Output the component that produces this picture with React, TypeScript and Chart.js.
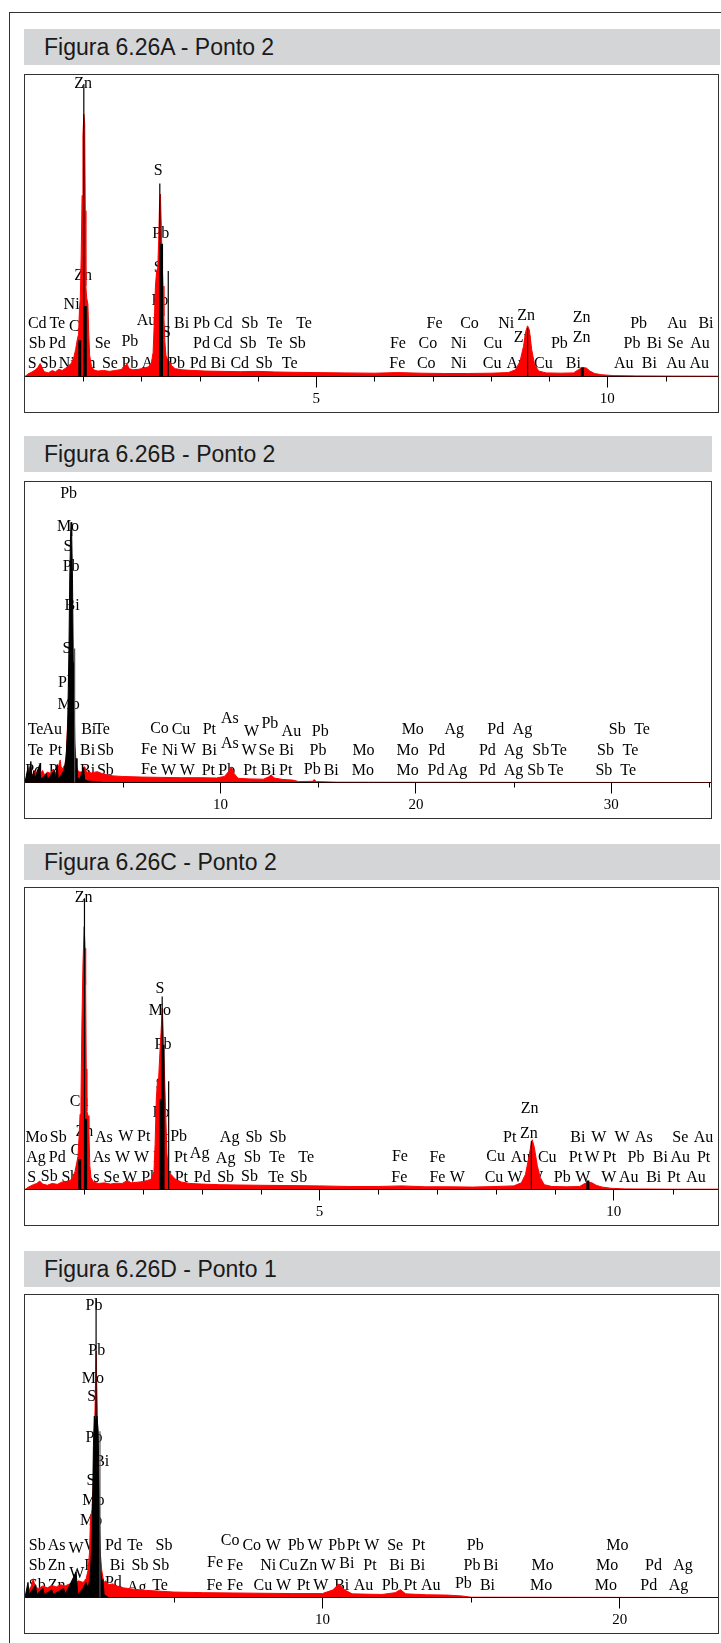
import React, { useEffect, useRef } from "react";
import { Chart, registerables } from "chart.js";

Chart.register(...registerables);

type Pt = [number, number];
type Lab = [string, number, number];

// ---------------- Panel A (Figura 6.26A - Ponto 2) ----------------
const titleA = "Figura 6.26A - Ponto 2";
const rangeA = 11.9;
const majorTicksA = [5, 10];
const minorTicksA = [1, 2, 3, 4, 6, 7, 8, 9, 11];
const spectrumA: Pt[] = [
  [0, 0], [0.05, 0.8], [0.12, 1.5], [0.18, 2.2], [0.22, 3.0], [0.26, 4.3], [0.29, 3.0], [0.33, 1.6], [0.4, 1.2],
  [0.47, 2.0], [0.52, 1.5], [0.58, 2.4], [0.64, 2.0], [0.7, 2.8], [0.75, 3.6], [0.8, 4.5], [0.84, 6.5], [0.87, 9],
  [0.9, 12.5], [0.92, 14], [0.935, 22], [0.95, 26], [0.965, 40], [0.98, 60], [0.995, 80], [1.01, 87], [1.025, 84],
  [1.035, 55], [1.045, 30], [1.06, 26], [1.08, 24], [1.095, 14], [1.11, 7], [1.14, 3.5], [1.18, 2.2], [1.25, 1.8],
  [1.35, 2.0], [1.45, 1.7], [1.55, 2.0], [1.65, 2.3], [1.72, 3.5], [1.75, 4.2], [1.79, 2.6], [1.85, 2.2], [1.95, 2.4],
  [2.05, 2.8], [2.12, 3.2], [2.17, 4.5], [2.2, 8], [2.22, 18], [2.24, 30], [2.26, 35], [2.28, 36], [2.295, 45],
  [2.31, 57], [2.325, 60.5], [2.34, 50], [2.355, 38], [2.37, 30], [2.385, 20], [2.4, 12], [2.42, 7], [2.45, 5.5],
  [2.48, 5], [2.52, 3.5], [2.58, 2.6], [2.7, 2.2], [2.9, 2.0], [3.1, 1.8], [3.4, 1.7], [3.7, 1.6], [4.0, 1.7],
  [4.3, 1.5], [4.6, 1.4], [5.0, 1.3], [5.5, 1.2], [6.0, 1.1], [6.4, 1.3], [6.8, 1.1], [7.2, 1.0], [7.6, 1.0],
  [8.0, 1.1], [8.3, 1.3], [8.42, 2.2], [8.5, 5], [8.56, 10], [8.6, 15], [8.63, 16.8], [8.66, 15.5], [8.7, 9],
  [8.75, 4], [8.82, 1.8], [8.95, 1.2], [9.2, 1.1], [9.42, 1.2], [9.5, 2.2], [9.57, 3.0], [9.64, 2.8], [9.7, 1.8],
  [9.78, 1.0], [9.9, 0.6], [10.1, 0.3], [10.5, 0.2], [11.0, 0.15], [11.9, 0.1],
];
const blackA: Pt[] = [];
const markersThinA: Pt[] = [[1.01, 97], [2.315, 64], [2.46, 35], [8.63, 16]];
const markersThickA: Pt[] = [[1.035, 23.4], [0.94, 12], [2.345, 44], [2.33, 22], [9.57, 3]];
const markersGreyA: Pt[] = [];
const labelsA: Lab[] = [
  ["Zn", 1.0, 97.0], ["S", 2.287, 68.2], ["Pb", 2.33, 47.2], ["S", 2.287, 36.1], ["Zn", 1.0, 33.4],
  ["Pb", 2.316, 25.1], ["Ni", 0.8, 23.8], ["Au", 2.087, 18.5], ["S", 2.431, 14.6], ["Cu", 0.914, 16.6],
  ["Zn", 8.605, 20.1], ["Zn", 8.547, 12.9], ["Zn", 9.559, 19.6], ["Zn", 9.559, 12.7],
  ["Cd", 0.21, 17.4], ["Te", 0.554, 17.4], ["Bi", 2.688, 17.4], ["Pb", 3.031, 17.4], ["Cd", 3.401, 17.4],
  ["Sb", 3.859, 17.4], ["Te", 4.288, 17.4], ["Te", 4.791, 17.4], ["Fe", 7.033, 17.4], ["Co", 7.633, 17.4],
  ["Ni", 8.262, 17.4], ["Pb", 10.537, 17.4], ["Au", 11.195, 17.4], ["Bi", 11.693, 17.4],
  ["Sb", 0.21, 10.7], ["Pd", 0.554, 10.7], ["Se", 1.333, 10.7], ["Pb", 1.801, 11.5], ["Pd", 3.031, 10.7],
  ["Cd", 3.391, 10.7], ["Sb", 3.83, 10.7], ["Te", 4.288, 10.7], ["Sb", 4.678, 10.7], ["Fe", 6.403, 10.7],
  ["Co", 6.918, 10.7], ["Ni", 7.449, 10.7], ["Cu", 8.033, 10.7], ["Pb", 9.177, 10.7], ["Pb", 10.424, 10.7],
  ["Bi", 10.806, 10.7], ["Se", 11.166, 10.7], ["Au", 11.59, 10.7],
  ["S", 0.125, 4.1], ["Sb", 0.4, 4.1], ["Ni", 0.715, 4.1], ["Zn", 1.058, 4.1], ["Se", 1.458, 4.1],
  ["Pb", 1.801, 4.1], ["Au", 2.173, 4.1], ["Pb", 2.602, 4.1], ["Pd", 2.973, 4.1], ["Bi", 3.316, 4.1],
  ["Cd", 3.688, 4.1], ["Sb", 4.105, 4.1], ["Te", 4.545, 4.1], ["Fe", 6.393, 4.1], ["Co", 6.89, 4.1],
  ["Ni", 7.449, 4.1], ["Cu", 8.022, 4.1], ["Au", 8.434, 4.1], ["Cu", 8.902, 4.1], ["Bi", 9.417, 4.1],
  ["Au", 10.28, 4.1], ["Bi", 10.72, 4.1], ["Au", 11.178, 4.1], ["Au", 11.578, 4.1],
];

// ---------------- Panel B (Figura 6.26B - Ponto 2) ----------------
const titleB = "Figura 6.26B - Ponto 2";
const rangeB = 35.1;
const majorTicksB = [10, 20, 30];
const minorTicksB = [5, 15, 25, 35];
const spectrumB: Pt[] = [
  [0, 0], [0.1, 2], [0.2, 4], [0.28, 6], [0.33, 3], [0.4, 2.5], [0.5, 4], [0.58, 3], [0.7, 5], [0.8, 3], [0.9, 4],
  [1.0, 2.5], [1.15, 3.5], [1.3, 3], [1.45, 4.5], [1.55, 3], [1.7, 5], [1.8, 7.5], [1.87, 4], [1.95, 5], [2.05, 6],
  [2.12, 10], [2.18, 20], [2.25, 24], [2.32, 27], [2.4, 30], [2.46, 32.4], [2.52, 24], [2.56, 12], [2.62, 6],
  [2.7, 4], [2.8, 3.5], [2.95, 3.5], [3.05, 5.3], [3.15, 3.5], [3.4, 3.2], [3.7, 3.6], [4.0, 2.8], [4.5, 2.2],
  [5, 2.0], [6, 1.8], [7, 1.7], [8, 1.6], [9, 1.6], [9.8, 1.5], [10.2, 2], [10.4, 3.5], [10.55, 5.2], [10.7, 3],
  [10.9, 1.4], [11.5, 1.2], [12.2, 1.1], [12.45, 1.8], [12.6, 2.5], [12.75, 1.5], [13.2, 1.0], [13.7, 0.8],
  [14, 0.3], [14.7, 0.4], [14.8, 1.0], [14.9, 0.3], [16, 0.1], [35.1, 0],
];
const blackB: Pt[] = [
  [0, 0], [0.15, 5], [0.2, 1], [0.3, 7], [0.35, 1], [0.45, 4], [0.5, 1], [0.75, 6], [0.8, 1], [1.1, 3], [1.15, 1],
  [1.5, 4], [1.55, 1], [1.65, 6], [1.7, 1], [1.9, 3], [2.0, 4], [2.1, 8], [2.18, 18], [2.25, 45], [2.29, 68],
  [2.33, 82], [2.36, 86.6], [2.39, 82], [2.43, 68], [2.47, 40], [2.5, 30], [2.53, 14], [2.58, 6], [2.62, 8],
  [2.66, 2], [2.8, 1], [3.0, 5], [3.05, 1], [3.2, 0.5], [4, 0], [35.1, 0],
];
const markersThinB: Pt[] = [];
const markersThickB: Pt[] = [];
const markersGreyB: Pt[] = [[2.54, 44.6]];
const labelsB: Lab[] = [
  ["Pb", 2.23, 96.0], ["Mo", 2.2, 85.0], ["S", 2.2, 78.3], ["Pb", 2.36, 71.9], ["Bi", 2.41, 58.9],
  ["S", 2.15, 44.6], ["Pb", 2.12, 33.2], ["Mo", 2.23, 25.8],
  ["Te", 0.54, 17.4], ["Au", 1.39, 17.4], ["Bi", 3.26, 17.4], ["Te", 3.94, 17.4], ["Co", 6.88, 18.0],
  ["Cu", 7.98, 17.4], ["Pt", 9.43, 17.6], ["As", 10.48, 21.2], ["W", 11.59, 16.8], ["Pb", 12.53, 19.6],
  ["Au", 13.63, 17.0], ["Pb", 15.11, 17.0], ["Mo", 19.84, 17.4], ["Ag", 21.96, 17.4], ["Pd", 24.09, 17.4],
  ["Ag", 25.45, 17.4], ["Sb", 30.3, 17.4], ["Te", 31.57, 17.4],
  ["Te", 0.54, 10.4], ["Pt", 1.56, 10.4], ["Bi", 3.2, 10.4], ["Sb", 4.11, 10.4], ["Fe", 6.35, 11.0],
  ["Ni", 7.42, 10.4], ["W", 8.36, 10.8], ["Bi", 9.43, 10.4], ["As", 10.48, 13.0], ["W", 11.47, 10.6],
  ["Se", 12.36, 10.4], ["Bi", 13.38, 10.4], ["Pb", 14.99, 10.4], ["Mo", 17.32, 10.4], ["Mo", 19.58, 10.4],
  ["Pd", 21.06, 10.4], ["Pd", 23.66, 10.4], ["Ag", 24.99, 10.4], ["Sb", 26.39, 10.4], ["Te", 27.32, 10.4],
  ["Sb", 29.7, 10.4], ["Te", 30.98, 10.4],
  ["Pd", 0.45, 3.8], ["Pt", 1.56, 3.8], ["Bi", 3.2, 3.8], ["Sb", 4.11, 3.8], ["Fe", 6.35, 4.2], ["W", 7.34, 3.8],
  ["W", 8.31, 3.8], ["Pt", 9.38, 3.8], ["Pb", 10.32, 3.8], ["Pt", 11.51, 3.8], ["Bi", 12.44, 3.8],
  ["Pt", 13.34, 3.8], ["Pb", 14.7, 4.2], ["Bi", 15.67, 3.8], ["Mo", 17.29, 3.8], ["Mo", 19.58, 3.8],
  ["Pd", 21.03, 3.8], ["Ag", 22.13, 3.8], ["Pd", 23.66, 3.8], ["Ag", 24.99, 3.8], ["Sb", 26.13, 3.8],
  ["Te", 27.15, 3.8], ["Sb", 29.62, 3.8], ["Te", 30.86, 3.8],
];

// ---------------- Panel C (Figura 6.26C - Ponto 2) ----------------
const titleC = "Figura 6.26C - Ponto 2";
const rangeC = 11.77;
const majorTicksC = [5, 10];
const minorTicksC = [1, 2, 3, 4, 6, 7, 8, 9, 11];
const spectrumC: Pt[] = [
  [0, 0], [0.06, 0.8], [0.14, 1.6], [0.2, 2.0], [0.25, 2.8], [0.3, 1.8], [0.38, 1.4], [0.46, 2.0], [0.55, 1.7],
  [0.62, 2.4], [0.7, 2.6], [0.76, 3.0], [0.8, 3.5], [0.85, 6], [0.88, 9], [0.9, 11], [0.92, 18], [0.935, 25],
  [0.95, 28], [0.966, 54.6], [0.985, 75], [1.005, 87.2], [1.02, 80], [1.03, 67.9], [1.04, 40], [1.05, 26],
  [1.07, 24.5], [1.085, 20], [1.1, 8], [1.12, 4], [1.16, 2.5], [1.25, 2.0], [1.35, 2.2], [1.45, 1.8],
  [1.55, 2.1], [1.65, 2.0], [1.74, 3.0], [1.8, 2.2], [1.9, 2.4], [2.0, 2.6], [2.08, 3.0], [2.15, 3.5],
  [2.19, 6], [2.21, 15], [2.23, 30], [2.25, 36], [2.27, 37], [2.29, 45], [2.31, 52], [2.333, 60.2], [2.35, 50],
  [2.37, 38], [2.39, 25], [2.41, 12], [2.44, 6], [2.48, 5], [2.55, 3.5], [2.65, 2.5], [2.8, 2.0], [3.0, 1.8],
  [3.3, 1.6], [3.6, 1.5], [4.0, 1.4], [4.5, 1.3], [5.0, 1.2], [5.5, 1.0], [6.0, 1.0], [6.4, 1.2], [6.8, 0.9],
  [7.2, 0.9], [7.6, 0.8], [8.0, 1.0], [8.3, 1.2], [8.43, 2.2], [8.5, 5], [8.56, 11], [8.6, 15.5], [8.615, 16.5],
  [8.65, 14], [8.7, 8], [8.75, 4], [8.82, 1.6], [8.95, 1.0], [9.2, 0.9], [9.42, 1.0], [9.49, 1.8], [9.56, 2.4],
  [9.63, 2.2], [9.7, 1.4], [9.8, 0.8], [9.95, 0.4], [10.2, 0.2], [11.0, 0.1], [11.77, 0.1],
];
const blackC: Pt[] = [];
const markersThinC: Pt[] = [[1.01, 96.6], [2.33, 64], [2.44, 35.9], [8.6, 16]];
const markersThickC: Pt[] = [[1.03, 23.5], [0.93, 10], [2.345, 48], [2.31, 30], [9.56, 3]];
const markersGreyC: Pt[] = [];
const labelsC: Lab[] = [
  ["Zn", 0.996, 96.6], ["S", 2.29, 66.6], ["Mo", 2.29, 59.3], ["Pb", 2.345, 48.0], ["S", 2.29, 34.8],
  ["Pb", 2.31, 25.4], ["Cu", 0.92, 29.2], ["Zn", 1.01, 19.3], ["Cu", 0.93, 12.7], ["Zn", 8.571, 26.7],
  ["Zn", 8.559, 18.5], ["Ag", 2.966, 11.8],
  ["Mo", 0.198, 17.3], ["Sb", 0.565, 17.3], ["As", 1.339, 17.0], ["W", 1.712, 17.6], ["Pt", 2.017, 17.6],
  ["Pt", 2.317, 17.3], ["Pb", 2.61, 17.6], ["Ag", 3.475, 17.0], ["Sb", 3.887, 17.0], ["Sb", 4.293, 17.0],
  ["Pt", 8.232, 17.0], ["Bi", 9.39, 17.3], ["W", 9.746, 17.3], ["W", 10.14, 17.3], ["As", 10.51, 17.0],
  ["Se", 11.13, 17.0], ["Au", 11.525, 17.3],
  ["Ag", 0.186, 10.5], ["Pd", 0.548, 10.5], ["As", 1.3, 10.5], ["W", 1.655, 10.5], ["W", 1.978, 10.5],
  ["Pt", 2.288, 10.5], ["Pt", 2.644, 10.5], ["Ag", 3.407, 10.2], ["Sb", 3.86, 10.5], ["Te", 4.283, 10.5],
  ["Te", 4.775, 10.5], ["Fe", 6.367, 11.0], ["Fe", 7.005, 10.5], ["Cu", 7.994, 11.0], ["Au", 8.418, 10.5],
  ["Cu", 8.87, 10.5], ["Pt", 9.35, 10.5], ["W", 9.63, 10.5], ["Pt", 9.927, 10.5], ["Pb", 10.378, 10.5],
  ["Bi", 10.79, 10.5], ["Au", 11.13, 10.5], ["Pt", 11.525, 10.5],
  ["S", 0.113, 3.9], ["Sb", 0.412, 4.1], ["Sb", 0.763, 3.9], ["As", 1.113, 3.9], ["Se", 1.469, 3.9],
  ["W", 1.78, 3.9], ["Pb", 2.119, 3.9], ["S", 2.43, 3.9], ["Pt", 2.655, 3.9], ["Pd", 3.011, 3.9],
  ["Sb", 3.407, 3.9], ["Sb", 3.814, 4.1], ["Te", 4.266, 3.9], ["Sb", 4.65, 3.9], ["Fe", 6.356, 3.9],
  ["Fe", 7.005, 3.9], ["W", 7.344, 3.9], ["Cu", 7.966, 3.9], ["W", 8.322, 3.9], ["W", 8.672, 3.9],
  ["Pb", 9.124, 3.9], ["W", 9.475, 3.9], ["W", 9.915, 3.9], ["Au", 10.254, 3.9], ["Bi", 10.678, 3.9],
  ["Pt", 11.017, 3.9], ["Au", 11.395, 3.9],
];

// ---------------- Panel D (Figura 6.26D - Ponto 1) ----------------
const titleD = "Figura 6.26D - Ponto 1";
const rangeD = 23.3;
const majorTicksD = [10, 20];
const minorTicksD = [5, 15];
const spectrumD: Pt[] = [
  [0, 0], [0.1, 2], [0.2, 3.5], [0.28, 6.2], [0.34, 3.5], [0.45, 3], [0.6, 3.8], [0.75, 3.2], [0.9, 4],
  [1.05, 3.5], [1.2, 4.2], [1.35, 3.8], [1.5, 4.5], [1.65, 4.2], [1.8, 5.5], [1.95, 5], [2.05, 6], [2.12, 9],
  [2.17, 15], [2.2, 26], [2.25, 29], [2.3, 38], [2.35, 60], [2.39, 81.5], [2.43, 62], [2.47, 35], [2.52, 16],
  [2.58, 9], [2.65, 5], [2.72, 5.5], [2.8, 4.2], [2.95, 4.5], [3.1, 3.8], [3.3, 3.2], [3.6, 2.8], [4, 2.4],
  [5, 1.8], [6, 1.6], [7, 1.5], [8, 1.4], [9, 1.3], [10, 1.3], [10.35, 2.5], [10.55, 4.5], [10.75, 2.5],
  [11, 1.2], [12, 1.0], [12.45, 1.6], [12.62, 2.6], [12.8, 1.2], [13.5, 0.9], [14.2, 0.8], [14.7, 0.5],
  [15, 0.1], [23.3, 0],
];
const blackD: Pt[] = [
  [0, 0], [0.1, 5], [0.14, 1], [0.35, 4], [0.4, 1], [0.6, 3], [0.65, 1], [0.9, 2.5], [0.95, 1], [1.3, 3],
  [1.35, 1], [1.72, 8.5], [1.77, 1], [1.95, 3], [2.05, 5], [2.12, 3], [2.18, 6], [2.22, 12], [2.26, 22],
  [2.3, 50], [2.33, 60], [2.37, 58], [2.42, 60], [2.46, 55], [2.5, 30], [2.54, 10], [2.58, 4], [2.62, 6],
  [2.66, 1], [2.8, 0], [23.3, 0],
];
const markersThinD: Pt[] = [[2.39, 98.6]];
const markersThickD: Pt[] = [];
const markersGreyD: Pt[] = [[2.52, 55]];
const labelsD: Lab[] = [
  ["Pb", 2.32, 96.4], ["Pb", 2.41, 81.5], ["Mo", 2.28, 72.2], ["S", 2.24, 66.3], ["Pb", 2.32, 52.9],
  ["Bi", 2.58, 44.7], ["S", 2.22, 38.6], ["Mo", 2.3, 32], ["Mo", 2.22, 25.4],
  ["Sb", 0.414, 17.2], ["As", 1.065, 17.2], ["W", 1.715, 16.2], ["W", 2.25, 17.2], ["Pd", 2.97, 17.2],
  ["Te", 3.7, 17.2], ["Sb", 4.675, 17.2], ["Co", 6.895, 18.8], ["Co", 7.625, 17.2], ["W", 8.35, 17.2],
  ["Pb", 9.115, 17.2], ["W", 9.754, 17.2], ["Pb", 10.484, 17.2], ["Pt", 11.04, 17.2], ["W", 11.66, 17.2],
  ["Se", 12.445, 17.2], ["Pt", 13.23, 17.2], ["Pb", 15.136, 17.2], ["Mo", 19.92, 17.2],
  ["Sb", 0.414, 10.6], ["Zn", 1.065, 10.6], ["W", 1.74, 7.8], ["Pb", 2.28, 10.6], ["Bi", 3.105, 10.6],
  ["Sb", 3.868, 10.6], ["Sb", 4.564, 10.6], ["Fe", 6.39, 11.5], ["Fe", 7.063, 10.6], ["Ni", 8.18, 10.6],
  ["Cu", 8.857, 10.6], ["Zn", 9.53, 10.6], ["W", 10.2, 10.6], ["Bi", 10.82, 11.2], ["Pt", 11.6, 10.6],
  ["Bi", 12.5, 10.6], ["Bi", 13.2, 10.6], ["Pb", 15.03, 10.6], ["Bi", 15.66, 10.6], ["Mo", 17.4, 10.6],
  ["Mo", 19.57, 10.6], ["Pd", 21.13, 10.6], ["Ag", 22.12, 10.6],
  ["Sb", 0.414, 4.0], ["Zn", 1.065, 4.0], ["Pb", 2.28, 4.0], ["Pd", 2.97, 5.0], ["Ag", 3.757, 3.2],
  ["Te", 4.54, 4.0], ["Fe", 6.368, 4.0], ["Fe", 7.063, 4.0], ["Cu", 7.995, 4.0], ["W", 8.69, 4.0],
  ["Pt", 9.36, 4.0], ["W", 9.946, 4.0], ["Bi", 10.65, 4.0], ["Au", 11.38, 4.0], ["Pb", 12.28, 4.0],
  ["Pt", 12.95, 4.0], ["Au", 13.645, 4.0], ["Pb", 14.74, 4.5], ["Bi", 15.55, 4.0], ["Mo", 17.35, 4.0],
  ["Mo", 19.53, 4.0], ["Pd", 20.97, 4.0], ["Ag", 21.97, 4.0],
];

const SERIF = '"Liberation Serif", "Times New Roman", serif';

type PanelProps = {
  title: string;
  barTop: number;
  barRight: number;
  boxTop: number;
  boxHeight: number;
  boxRight: number;
  range: number;
  majors: number[];
  minors: number[];
  spectrum: Pt[];
  black: Pt[];
  thin: Pt[];
  thick: Pt[];
  grey: Pt[];
  labels: Lab[];
};

const toXY = (pts: Pt[]) => pts.map(([x, y]) => ({ x, y }));
const toSticks = (pts: Pt[]) =>
  pts.flatMap(([x, y]) => [{ x, y: 0 }, { x, y }, { x, y: null as any }]);

function Spectrum(p: PanelProps) {
  const ref = useRef<HTMLCanvasElement | null>(null);
  const boxLeft = 24;
  const w = p.boxRight - boxLeft - 2;
  const h = p.boxHeight - 2;

  useEffect(() => {
    if (!ref.current) return;
    const labelPlugin = {
      id: "elementLabels",
      beforeDatasetsDraw(chart: any) {
        const { ctx } = chart;
        const xs = chart.scales.x;
        const ys = chart.scales.y;
        ctx.save();
        ctx.font = `16px ${SERIF}`;
        ctx.fillStyle = "#000";
        ctx.textAlign = "center";
        ctx.textBaseline = "middle";
        for (const [t, e, v] of p.labels) {
          ctx.fillText(t, xs.getPixelForValue(e), ys.getPixelForValue(v));
        }
        ctx.restore();
      },
    };
    const minorTickPlugin = {
      id: "minorTicks",
      afterDraw(chart: any) {
        const { ctx } = chart;
        const xs = chart.scales.x;
        const y0 = chart.chartArea.bottom;
        ctx.save();
        ctx.strokeStyle = "#000";
        ctx.lineWidth = 1;
        ctx.beginPath();
        for (const v of p.minors) {
          const px = Math.round(xs.getPixelForValue(v)) + 0.5;
          ctx.moveTo(px, y0);
          ctx.lineTo(px, y0 + 5);
        }
        ctx.stroke();
        ctx.restore();
      },
    };
    const common = { pointRadius: 0, pointHoverRadius: 0, tension: 0 };
    const chart = new Chart(ref.current, {
      type: "line",
      data: {
        datasets: [
          { ...common, label: "thin", data: toSticks(p.thin), borderColor: "#000", borderWidth: 1.2, fill: false, spanGaps: false },
          { ...common, label: "thick", data: toSticks(p.thick), borderColor: "#000", borderWidth: 3, fill: false, spanGaps: false },
          { ...common, label: "grey", data: toSticks(p.grey), borderColor: "#555", borderWidth: 1.2, fill: false, spanGaps: false },
          { ...common, label: "black", data: toXY(p.black), borderColor: "#000", backgroundColor: "#000", borderWidth: 1, fill: "origin" },
          { ...common, label: "red", data: toXY(p.spectrum), borderColor: "#ff0000", backgroundColor: "#ff0000", borderWidth: 1, fill: "origin" },
        ] as any,
      },
      options: {
        animation: false,
        responsive: false,
        maintainAspectRatio: false,
        devicePixelRatio: 1,
        events: [],
        layout: { padding: { top: 0, left: 0, right: 0, bottom: 0.5 }, autoPadding: false } as any,
        plugins: { legend: { display: false }, tooltip: { enabled: false } },
        scales: {
          x: {
            type: "linear",
            min: 0,
            max: p.range,
            offset: false,
            afterBuildTicks: (s: any) => {
              s.ticks = p.majors.map((v) => ({ value: v }));
            },
            ticks: {
              color: "#000",
              font: { family: SERIF, size: 15 },
              padding: 3,
              maxRotation: 0,
              autoSkip: false,
              callback: (v: any) => String(v),
            },
            grid: { display: true, drawOnChartArea: false, drawTicks: true, tickLength: 11, tickColor: "#000", tickWidth: 1 },
            border: { display: true, color: "#000", width: 1 },
          },
          y: { type: "linear", min: 0, max: 100, display: false },
        },
      } as any,
      plugins: [labelPlugin, minorTickPlugin],
    });
    return () => chart.destroy();
  }, []);

  return (
    <>
      <div
        style={{
          position: "absolute",
          left: boxLeft,
          top: p.barTop,
          width: p.barRight - boxLeft,
          height: 36,
          background: "#d4d5d7",
          boxSizing: "border-box",
          paddingLeft: 20,
          font: '23px "Liberation Sans", Arial, sans-serif',
          lineHeight: "36px",
          color: "#1a1a1a",
          whiteSpace: "nowrap",
        }}
      >
        {p.title}
      </div>
      <div
        style={{
          position: "absolute",
          left: boxLeft,
          top: p.boxTop,
          width: p.boxRight - boxLeft,
          height: p.boxHeight,
          border: "1px solid #333",
          boxSizing: "border-box",
          background: "#fff",
        }}
      >
        <canvas ref={ref} width={w} height={h} style={{ display: "block", width: w, height: h }} />
      </div>
    </>
  );
}

export default function App() {
  return (
    <div style={{ position: "absolute", left: 0, top: 0, width: 721, height: 1643, background: "#fff", overflow: "hidden" }}>
      <div
        style={{
          position: "absolute",
          left: 9,
          top: 12,
          width: 740,
          height: 1700,
          borderLeft: "1px solid #333",
          borderTop: "1px solid #333",
        }}
      />
      <Spectrum title={titleA} barTop={29} barRight={720} boxTop={74} boxHeight={339} boxRight={719}
        range={rangeA} majors={majorTicksA} minors={minorTicksA} spectrum={spectrumA} black={blackA}
        thin={markersThinA} thick={markersThickA} grey={markersGreyA} labels={labelsA} />
      <Spectrum title={titleB} barTop={436} barRight={712} boxTop={481} boxHeight={338} boxRight={712}
        range={rangeB} majors={majorTicksB} minors={minorTicksB} spectrum={spectrumB} black={blackB}
        thin={markersThinB} thick={markersThickB} grey={markersGreyB} labels={labelsB} />
      <Spectrum title={titleC} barTop={844} barRight={720} boxTop={887} boxHeight={339} boxRight={719}
        range={rangeC} majors={majorTicksC} minors={minorTicksC} spectrum={spectrumC} black={blackC}
        thin={markersThinC} thick={markersThickC} grey={markersGreyC} labels={labelsC} />
      <Spectrum title={titleD} barTop={1251} barRight={720} boxTop={1294} boxHeight={340} boxRight={719}
        range={rangeD} majors={majorTicksD} minors={minorTicksD} spectrum={spectrumD} black={blackD}
        thin={markersThinD} thick={markersThickD} grey={markersGreyD} labels={labelsD} />
    </div>
  );
}
